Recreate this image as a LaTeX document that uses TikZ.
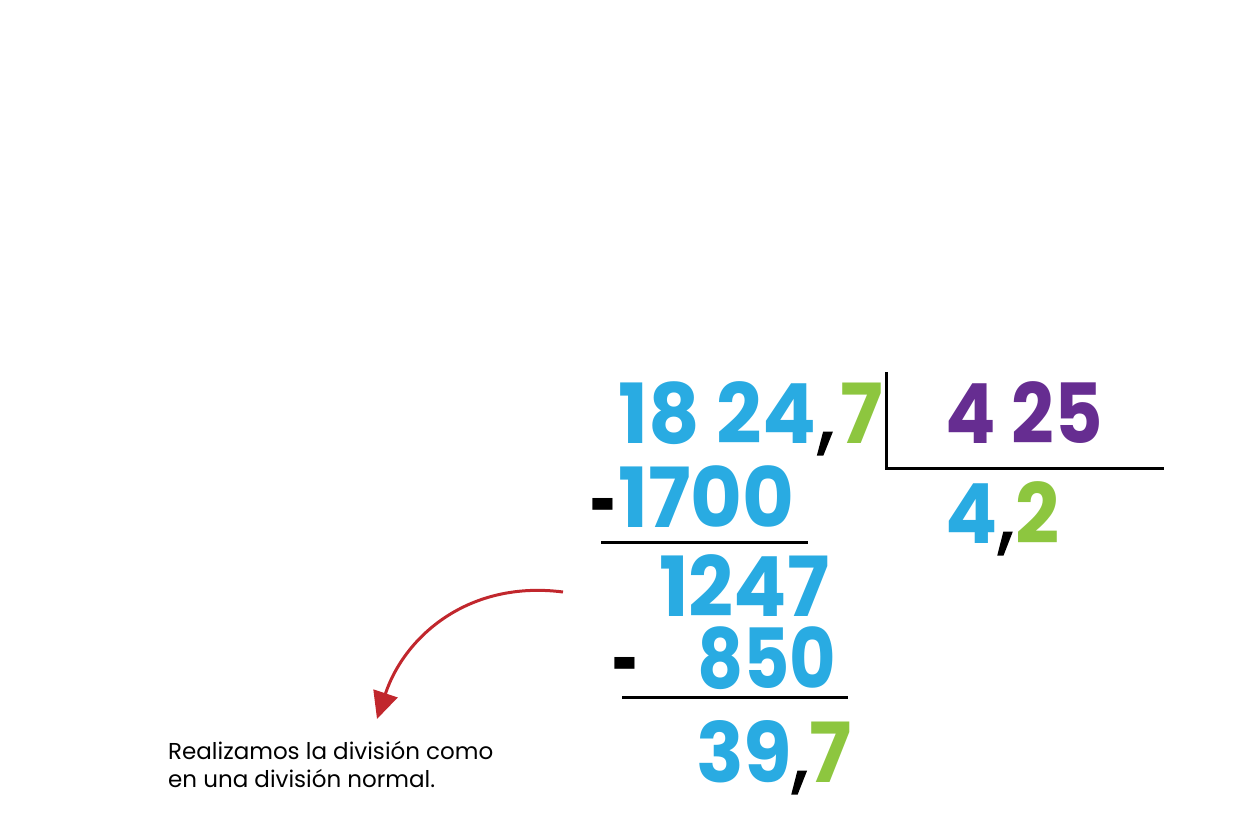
\documentclass[tikz,border=0pt]{standalone}
\usepackage{fontspec}
\setmainfont{Poppins}
\newfontfamily\commafont{Poppins}[FakeBold=2]
\usetikzlibrary{arrows.meta}
\definecolor{numblue}{HTML}{29ABE2}
\definecolor{numpurple}{HTML}{662D91}
\definecolor{numgreen}{HTML}{8DC63F}
\definecolor{arrowred}{HTML}{C1272D}
\newcommand\narrow[2]{\scalebox{#1}[1]{#2}}
\newcommand\blackcomma[2]{{\commafont\mdseries\color{black}\kern#1,\kern#2}}
\newcommand\shortminus{\scalebox{0.55}[1]{-}}
\begin{document}
\begin{tikzpicture}[x=1pt,y=-1pt,
  num/.style={inner sep=0pt, anchor=base west, font=\bfseries\fontsize{83}{83}\selectfont, text=numblue},
  rule/.style={line width=3pt, black},
  note/.style={inner sep=0pt, anchor=north west, align=left, font=\fontsize{23}{28}\selectfont, text=black}]
\useasboundingbox (0,0) rectangle (1245,827);
% dividend
\node[num] (dividend) at (618,443) {\narrow{0.96}{18 24\blackcomma{2pt}{7pt}{\color{numgreen}7}}};
% divisor
\node[num, text=numpurple] (divisor) at (945,443) {\narrow{0.90}{4 25}};
% quotient
\node[num] (quotient) at (945,543) {\narrow{0.93}{4\blackcomma{1pt}{2pt}{\color{numgreen}2}}};
% first subtraction
\node[num, text=black] (minusA) at (590,533) {\shortminus};
\node[num] (sub1) at (618,527) {\narrow{0.96}{1700}};
\node[num] (rem1) at (659,616) {\narrow{0.95}{1247}};
\node[num, text=black] (minusB) at (612,692) {\shortminus};
\node[num] (sub2) at (697,688) {\narrow{0.86}{850}};
\node[num] (rem2) at (696,782) {\narrow{0.95}{39\blackcomma{0pt}{2pt}{\color{numgreen}7}}};
% division bracket
\coordinate (vtop) at (886,372);
\coordinate (corner) at (886,468);
\coordinate (hend) at (1164,468);
\draw[rule] (vtop) -- (corner) -- (hend);
% subtraction rules
\coordinate (r1a) at (601,542);
\coordinate (r1b) at (808,542);
\draw[rule] (r1a) -- (r1b);
\coordinate (r2a) at (622,697);
\coordinate (r2b) at (848,697);
\draw[rule] (r2a) -- (r2b);
% note and arrow
\node[note] (note) at (168,741) {Realizamos la división como\\en una división normal.};
\coordinate (arrowstart) at (563,592);
\coordinate (arrowtip) at (377,719);
\draw[arrowred, line width=3pt, -{Triangle[length=27pt,width=25pt]}]
  (arrowstart) .. controls (470,580) and (405,635) .. (arrowtip);
\end{tikzpicture}
\end{document}
